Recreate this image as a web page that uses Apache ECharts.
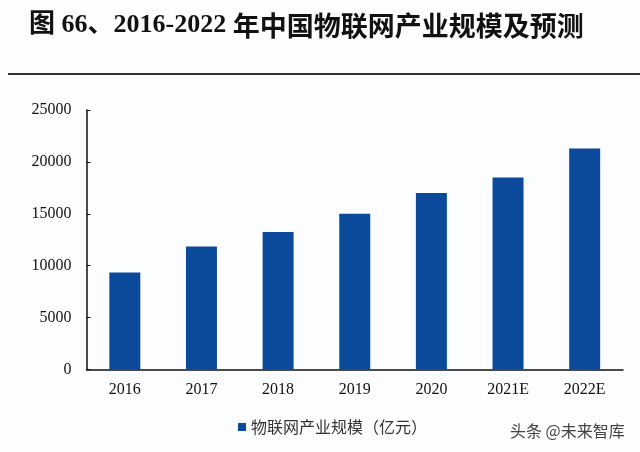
<!DOCTYPE html>
<html><head><meta charset="utf-8">
<script src="https://cdn.jsdelivr.net/npm/echarts@6/dist/echarts.min.js"></script>
<style>html,body{margin:0;padding:0;background:#fcfdff}#c{width:640px;height:452px}</style>
</head><body><div id="c"></div>
<script>
const categories = ['2016','2017','2018','2019','2020','2021E','2022E'];
const values = [9350, 11860, 13240, 15000, 17000, 18500, 21300];
const seriesName = '物联网产业规模（亿元）';
const titlePrefix = '图 66、2016-2022 ';
const titleMain = '年中国物联网产业规模及预测';
const watermark = '头条 @未来智库';

const chart = echarts.init(document.getElementById('c'));
chart.setOption({
  backgroundColor: '#fcfdff',
  animation: false,
  title: {
    text: '{a|' + titlePrefix + '}{b|' + titleMain + '}', left: 24, top: 7,
    textStyle: {
      rich: {
        a: { fontFamily: '"Liberation Serif","Noto Sans CJK SC"', fontSize: 26, fontWeight: 'bold', color: '#111' },
        b: { fontFamily: '"Noto Sans CJK SC"', fontSize: 27, fontWeight: 'bold', color: '#111' }
      }
    }
  },
  graphic: [
    { type: 'line', shape: { x1: 8, y1: 74, x2: 640, y2: 74 }, style: { stroke: '#333', lineWidth: 2 } },
    { type: 'text', left: 510, top: 423, style: { text: watermark, fontFamily: '"Noto Sans CJK SC"', fontSize: 16, fill: '#444' } }
  ],
  legend: {
    data: [seriesName], left: 233, top: 414, itemWidth: 8, itemHeight: 8, itemGap: 5,
    icon: 'rect',
    textStyle: { fontFamily: '"Noto Sans CJK SC"', fontSize: 16, color: '#333' }
  },
  grid: { left: 86.5, right: 17, top: 110, bottom: 82.5 },
  xAxis: {
    type: 'category', data: categories,
    axisLine: { lineStyle: { color: '#111', width: 1.5 } },
    axisTick: { show: false },
    axisLabel: { fontFamily: '"Liberation Serif"', fontSize: 16, color: '#111', margin: 12 }
  },
  yAxis: {
    type: 'value', min: 0, max: 25000, interval: 5000,
    axisLine: { show: true, lineStyle: { color: '#111', width: 1.5 } },
    axisTick: { show: true, inside: true, length: 4, lineStyle: { color: '#111' } },
    splitLine: { show: false },
    axisLabel: { fontFamily: '"Liberation Serif"', fontSize: 16, color: '#111', margin: 15, formatter: v => String(v) }
  },
  series: [{
    name: seriesName, type: 'bar', data: values, barWidth: 31,
    itemStyle: { color: '#0b4a9b' }
  }]
});
</script></body></html>
